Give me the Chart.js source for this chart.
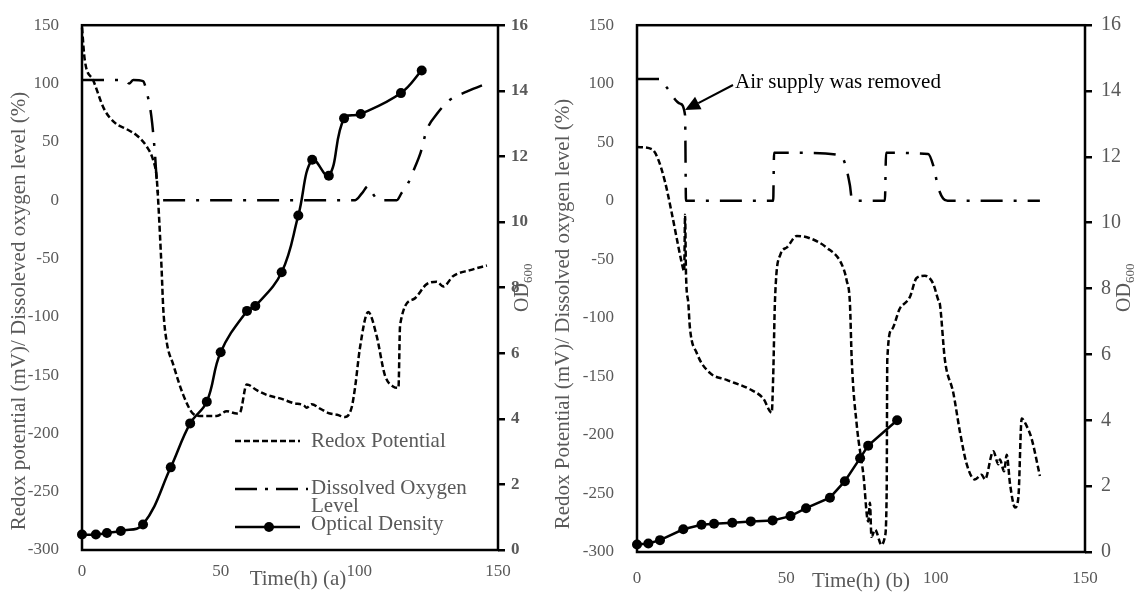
<!DOCTYPE html>
<html>
<head>
<meta charset="utf-8">
<script src="https://cdn.jsdelivr.net/npm/chart.js@4/dist/chart.umd.min.js"></script>
<style>
  body { margin: 0; background: #fff; }
  #wrap { position: relative; width: 1139px; height: 592px; overflow: hidden; }
  canvas { position: absolute; top: 0; }
  #chart-a { left: 0; }
  #chart-b { left: 535px; }
</style>
</head>
<body>
<div id="wrap">
  <canvas id="chart-a" width="560" height="592"></canvas>
  <canvas id="chart-b" width="604" height="592"></canvas>
</div>
<script>
// tick labels shared by both panels
const timeTicks = [0, 50, 100, 150];
const redoxTicks = [-300, -250, -200, -150, -100, -50, 0, 50, 100, 150];
const odTicks = [0, 2, 4, 6, 8, 10, 12, 14, 16];

// panel (a) - redox potential (mV)
const redoxTimeA = [0, 1, 4, 8, 12, 16, 20, 23.3, 25.7, 26.9, 27.5, 28.7, 29.3, 30.5, 32.9, 36.5, 40, 42.5, 48.6, 52.2, 55.8, 57, 59.4, 63, 66.6, 71.4, 76.2, 80, 81, 82.8, 86, 89.4, 92, 94.8, 97.2, 98.5, 100.2, 103.2, 106.2, 109.2, 112.3, 114.1, 114.7, 119.5, 124.3, 127.9, 130.3, 133.9, 140, 146];
const redoxMvA = [148, 120, 103, 78, 66, 61, 55, 46, 34, 20, -2, -59, -93, -121, -141, -167, -183, -185, -185, -181, -183, -182, -158, -163, -167, -170, -174, -176, -178, -175, -179, -183, -184, -186, -178, -160, -127, -96, -116, -150, -160, -161, -107, -85, -72, -70, -74, -65, -60, -56];
// panel (a) - dissolved oxygen level (%)
const doTimeA = [0, 15.5, 17, 18.5, 22, 23.3, 25, 26.3, 27, 28, 98.5, 101, 103.2, 105, 107, 113.5, 115.2, 117.7, 120, 122, 124.3, 128, 132.7, 138.7, 147];
const doPctA = [103, 103, 100, 103, 102, 93, 72, 40, 15, 0, 0, 6, 12, 5, 0, 0, 6, 15, 28, 40, 60, 74, 86, 93, 101];
// panel (a) - OD600
const odTimeA = [0, 5, 9, 14, 22, 32, 39, 45, 50, 59.5, 62.5, 72, 78, 83, 89, 94.5, 100.5, 115, 122.5];
const odA = [0.47, 0.47, 0.52, 0.58, 0.78, 2.52, 3.86, 4.52, 6.03, 7.29, 7.44, 8.47, 10.2, 11.9, 11.41, 13.16, 13.29, 13.93, 14.62];

// panel (b) - redox potential (mV)
const redoxTimeB = [0, 5, 7, 9.4, 11.6, 13.3, 14.9, 15.8, 16.1, 16.4, 17.2, 17.7, 20, 24.4, 30, 37.8, 42.3, 45.1, 45.6, 46.2, 48, 50.1, 53.5, 57.9, 63.5, 68.5, 70.2, 71.3, 71.9, 73.6, 75.8, 77.4, 78, 78.5, 79.7, 81.9, 83, 83.6, 83.8, 85.3, 88, 90.3, 91.4, 93.6, 96.4, 99.2, 100.9, 101.4, 103.1, 105.9, 108.1, 110.4, 113.1, 115.4, 116.5, 119.3, 121, 121.5, 122.9, 123.8, 124.9, 126.6, 127.7, 128.8, 130.4, 132.1, 134.9];
const redoxMvB = [46, 44, 36, 16, -10, -32, -52, -60, -12, -62, -88, -108, -130, -147, -153, -161, -169, -181, -150, -85, -46, -40, -30, -32, -40, -54, -68, -88, -136, -192, -234, -274, -258, -287, -281, -294, -287, -248, -136, -110, -92, -86, -82, -66, -64, -71, -85, -88, -136, -164, -197, -225, -238, -234, -238, -214, -225, -221, -231, -217, -242, -262, -253, -186, -192, -203, -235];
// panel (b) - dissolved oxygen level (%)
const doTimeB = [0, 7.7, 9.9, 14.4, 16.1, 16.4, 45.6, 45.9, 55, 68, 69.6, 71.3, 71.9, 73, 83, 83.4, 97.5, 99.2, 100.9, 102.5, 104, 134.9];
const doPctB = [104, 104, 97, 83, 73, 0, 0, 41, 41, 39, 32, 13, 2, 0, 0, 41, 40, 30, 11, 2, 0, 0];
// panel (b) - OD600
const odTimeB = [0, 3.8, 7.7, 15.5, 21.6, 25.8, 31.9, 38.1, 45.4, 51.4, 56.6, 64.6, 69.6, 74.7, 77.4, 87.1];
const odB = [0.23, 0.26, 0.36, 0.69, 0.83, 0.86, 0.89, 0.93, 0.96, 1.09, 1.33, 1.65, 2.15, 2.85, 3.23, 4.0];

const GRAY = '#595959';
const SERIF = '"Liberation Serif", "Times New Roman", serif';
const redoxDash = [6, 3];
const doDash = [22, 11, 3, 11];

Chart.defaults.font.family = SERIF;

function points(xs, ys) {
  return xs.map((x, i) => ({ x: x, y: ys[i] }));
}

function tickList(values) {
  return scale => { scale.ticks = values.map(v => ({ value: v })); };
}

function strokeLine(ctx, x1, y1, x2, y2) {
  ctx.beginPath();
  ctx.moveTo(x1, y1);
  ctx.lineTo(x2, y2);
  ctx.stroke();
}

// frame, titles, OD600 label, legend and the arrow note
const panelDecor = {
  id: 'panelDecor',
  beforeDatasetsDraw(chart) {
    const a = chart.chartArea;
    const ctx = chart.ctx;
    ctx.save();
    ctx.strokeStyle = '#000';
    ctx.lineWidth = 2.5;
    ctx.strokeRect(a.left, a.top, a.right - a.left, a.bottom - a.top);
    ctx.restore();
  },
  afterDraw(chart, args, o) {
    const ctx = chart.ctx;
    ctx.save();
    ctx.fillStyle = GRAY;
    ctx.font = '21px ' + SERIF;
    ctx.textBaseline = 'middle';
    ctx.textAlign = 'center';

    // y title (rotated)
    ctx.save();
    ctx.translate(o.yTitleX, o.yTitleY);
    ctx.rotate(-Math.PI / 2);
    ctx.fillText(o.yTitle, 0, 0);
    ctx.restore();

    // x title
    ctx.fillText(o.xTitle, o.xTitleX, o.xTitleY);

    // OD600 with subscript
    ctx.save();
    ctx.translate(o.odX, o.odY);
    ctx.rotate(-Math.PI / 2);
    ctx.textAlign = 'left';
    ctx.textBaseline = 'alphabetic';
    ctx.font = '20px ' + SERIF;
    ctx.fillText('OD', 0, 0);
    const w = ctx.measureText('OD').width;
    ctx.font = '13px ' + SERIF;
    ctx.fillText('600', w, 4);
    ctx.restore();

    if (o.legend) {
      ctx.strokeStyle = '#000';
      ctx.lineWidth = 2.5;
      ctx.setLineDash(redoxDash);
      strokeLine(ctx, 235, 441, 300, 441);
      ctx.setLineDash([22, 8, 3, 8]);
      strokeLine(ctx, 235, 489, 308, 489);
      ctx.setLineDash([]);
      strokeLine(ctx, 235, 527, 300, 527);
      ctx.fillStyle = '#000';
      ctx.beginPath();
      ctx.arc(269, 527, 5, 0, Math.PI * 2);
      ctx.fill();
      ctx.fillStyle = GRAY;
      ctx.textAlign = 'left';
      ctx.fillText('Redox Potential', 311, 441);
      ctx.fillText('Dissolved Oxygen', 311, 488);
      ctx.fillText('Level', 311, 506);
      ctx.fillText('Optical Density', 311, 524);
    }

    if (o.note) {
      const n = o.note;
      ctx.fillStyle = '#000';
      ctx.textAlign = 'left';
      ctx.fillText(n.text, n.x, n.y);
      const dx = n.tipX - n.fromX, dy = n.tipY - n.fromY;
      const len = Math.hypot(dx, dy);
      const ux = dx / len, uy = dy / len;
      const bx = n.tipX - ux * 15, by = n.tipY - uy * 15;
      ctx.strokeStyle = '#000';
      ctx.lineWidth = 2;
      strokeLine(ctx, n.fromX, n.fromY, bx, by);
      ctx.beginPath();
      ctx.moveTo(n.tipX, n.tipY);
      ctx.lineTo(bx - uy * 7, by + ux * 7);
      ctx.lineTo(bx + uy * 7, by - ux * 7);
      ctx.closePath();
      ctx.fill();
    }
    ctx.restore();
  }
};

function makePanel(canvasId, p) {
  const ctx = document.getElementById(canvasId).getContext('2d');
  return new Chart(ctx, {
    type: 'line',
    data: {
      datasets: [
        { label: 'Optical Density', data: points(p.odTime, p.od), yAxisID: 'y1',
          borderColor: '#000', borderWidth: 2.5, pointRadius: 5, pointBackgroundColor: '#000',
          pointBorderWidth: 0, tension: p.odTension, clip: false },
        { label: 'Redox Potential', data: points(p.redoxTime, p.redoxMv), yAxisID: 'y',
          borderColor: '#000', borderWidth: 2.5, borderDash: redoxDash, pointRadius: 0,
          cubicInterpolationMode: 'monotone', clip: false },
        { label: 'Dissolved Oxygen Level', data: points(p.doTime, p.doPct), yAxisID: 'y',
          borderColor: '#000', borderWidth: 2.5, borderDash: doDash, pointRadius: 0,
          cubicInterpolationMode: 'monotone', clip: false }
      ]
    },
    options: {
      responsive: false,
      animation: false,
      devicePixelRatio: 1,
      layout: { padding: { top: p.top, left: 0, right: 0, bottom: 0 } },
      plugins: {
        legend: { display: false },
        tooltip: { enabled: false },
        panelDecor: p.decor
      },
      scales: {
        x: {
          type: 'linear', min: 0, max: 150,
          afterBuildTicks: tickList(timeTicks),
          grid: { display: false }, border: { display: false },
          ticks: { color: GRAY, font: { size: 17 }, padding: p.xTickPad, maxRotation: 0 },
          afterFit: s => { s.height = p.xHeight; }
        },
        y: {
          position: 'left', min: -300, max: 150,
          afterBuildTicks: tickList(redoxTicks),
          grid: { display: false }, border: { display: false },
          ticks: { color: GRAY, font: { size: 17 }, padding: 15 },
          afterFit: s => { s.width = p.yWidth; }
        },
        y1: {
          position: 'right', min: 0, max: 16,
          afterBuildTicks: tickList(odTicks),
          grid: { drawOnChartArea: false, color: '#000', lineWidth: 2.5, tickLength: 7 },
          border: { display: false },
          ticks: { color: GRAY, font: p.odFont, padding: p.odPad },
          afterFit: s => { s.width = p.y1Width; }
        }
      }
    },
    plugins: [panelDecor]
  });
}

makePanel('chart-a', {
  redoxTime: redoxTimeA, redoxMv: redoxMvA, doTime: doTimeA, doPct: doPctA,
  odTime: odTimeA, od: odA, odTension: 0.4,
  top: 21, xHeight: 42, yWidth: 82, y1Width: 62, xTickPad: 3,
  odFont: { size: 17, weight: 'bold' }, odPad: 6,
  decor: {
    yTitle: 'Redox potential (mV)/ Dissoleved oxygen level (%)', yTitleX: 19, yTitleY: 311,
    xTitle: 'Time(h) (a)', xTitleX: 298, xTitleY: 579,
    odX: 528, odY: 312, legend: true
  }
});

makePanel('chart-b', {
  redoxTime: redoxTimeB, redoxMv: redoxMvB, doTime: doTimeB, doPct: doPctB,
  odTime: odTimeB, od: odB, odTension: 0,
  top: 17, xHeight: 40, yWidth: 102, y1Width: 54, xTickPad: 8,
  odFont: { size: 20 }, odPad: 9,
  decor: {
    yTitle: 'Redox Potential (mV)/ Dissolved oxygen level (%)', yTitleX: 28, yTitleY: 314,
    xTitle: 'Time(h) (b)', xTitleX: 326, xTitleY: 581,
    odX: 595, odY: 312,
    note: { text: 'Air supply was removed', x: 200, y: 82, fromX: 198, fromY: 85, tipX: 150, tipY: 110 }
  }
});
</script>
</body>
</html>
